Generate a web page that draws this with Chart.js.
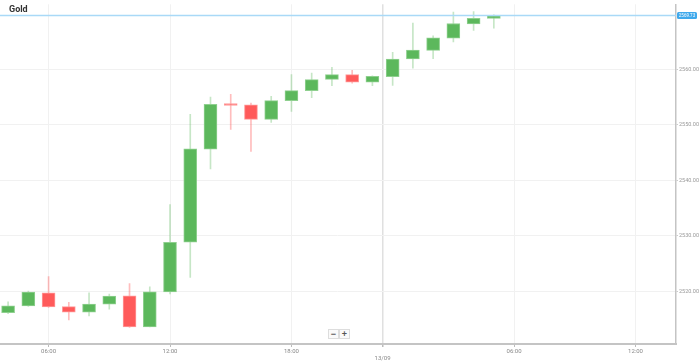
<!DOCTYPE html>
<html>
<head>
<script src="https://cdn.jsdelivr.net/npm/chart.js"></script>
<style>
  body { margin: 0; background: #fff; }
  #wrap { position: relative; width: 699px; height: 362px; }
  #title { position: absolute; left: 9px; top: 4px; font: bold 9px Roboto, sans-serif; color: #333; }
  #zoom { position: absolute; left: 328px; top: 329px; display: flex; }
  #zoom div { width: 9px; height: 8px; border: 1px solid #ddd; background: #fafafa; font: bold 9px Arial, sans-serif; color: #555; text-align: center; line-height: 8px; }
</style>
</head>
<body>
<div id="wrap">
  <canvas id="chartId" width="699" height="362"></canvas>
  <div id="title">Gold</div>
  <div id="zoom"><div>&minus;</div><div>+</div></div>
</div>
<script>
// hourly candles, 12/09 04:00 -> 13/09 05:00 (23:00 missing)
const slots = [0,1,2,3,4,5,6,7,8,9,10,11,12,13,14,15,16,17,18,19,20,21,22,23,24];
const opens  = [2516.13,2517.34,2519.69,2517.22,2516.20,2517.65,2519.15,2513.54,2519.87,2528.86,2545.61,2553.78,2553.63,2550.98,2554.36,2556.17,2558.20,2559.06,2557.72,2558.70,2561.88,2563.45,2565.62,2568.21,2569.19];
const highs  = [2518.06,2520.00,2522.64,2518.00,2519.69,2519.46,2521.37,2520.78,2535.60,2551.88,2555.00,2555.50,2553.92,2555.14,2559.06,2559.35,2560.40,2559.84,2558.84,2563.09,2568.34,2566.04,2570.33,2570.45,2569.84];
const lows   = [2515.95,2517.25,2517.07,2514.81,2515.53,2516.75,2513.45,2513.54,2519.50,2522.46,2542.06,2549.17,2545.19,2550.43,2552.42,2554.90,2557.07,2557.54,2557.07,2557.12,2560.25,2561.95,2564.96,2567.02,2567.43];
const closes = [2517.34,2519.82,2517.16,2516.20,2517.65,2519.10,2513.54,2519.87,2528.79,2545.68,2553.69,2553.50,2550.98,2554.36,2556.17,2558.16,2559.06,2557.72,2558.75,2561.88,2563.51,2565.68,2568.28,2569.24,2569.73];
const tickPos = [2, 8, 14, 18.5, 25, 31];
const tickLabels = ['06:00', '12:00', '18:00', ['', '13/09'], '06:00', '12:00'];
const yTicks = [2520, 2530, 2540, 2550, 2560];
const lastPrice = 2569.73;

const up = '#5cb85c', down = '#ff5a5a';
const isUp = slots.map(i => closes[i] >= opens[i]);

const priceLine = {
  id: 'priceLine',
  afterDraw(chart) {
    const { ctx, chartArea, scales } = chart;
    const y = Math.round(scales.y.getPixelForValue(lastPrice)) + 0.5;
    ctx.save();
    ctx.strokeStyle = '#a9d9f7';
    ctx.lineWidth = 1.5;
    ctx.beginPath();
    ctx.moveTo(0, y);
    ctx.lineTo(chartArea.right, y);
    ctx.stroke();
    ctx.fillStyle = '#3fa9ec';
    ctx.beginPath();
    ctx.roundRect(chartArea.right + 1, y - 3.5, 20, 7, 1.5);
    ctx.fill();
    ctx.fillStyle = '#fff';
    ctx.font = '4.5px Roboto, sans-serif';
    ctx.textAlign = 'center';
    ctx.textBaseline = 'middle';
    ctx.fillText(lastPrice.toFixed(2), chartArea.right + 11, y + 0.3);
    ctx.restore();
  }
};

new Chart(document.getElementById('chartId'), {
  type: 'bar',
  data: {
    datasets: [{
      label: 'wick',
      data: slots.map(i => ({ x: i, y: [lows[i], highs[i]] })),
      backgroundColor: slots.map(i => isUp[i] ? 'rgba(92,184,92,0.35)' : 'rgba(255,90,90,0.4)'),
      barThickness: 1,
      grouped: false,
      order: 2
    }, {
      label: 'body',
      data: slots.map(i => ({ x: i, y: [opens[i], closes[i]] })),
      backgroundColor: slots.map(i => isUp[i] ? up : down),
      borderColor: slots.map(i => isUp[i] ? '#8fd08f' : '#ff9a9a'),
      borderWidth: 1,
      borderSkipped: false,
      barThickness: 13,
      minBarLength: 2,
      grouped: false,
      order: 1
    }]
  },
  options: {
    responsive: false,
    animation: false,
    layout: { padding: 0 },
    plugins: { legend: { display: false }, tooltip: { enabled: false } },
    scales: {
      x: {
        type: 'linear',
        offset: false,
        min: -0.4,
        max: 33,
        afterBuildTicks: s => { s.ticks = tickPos.map(v => ({ value: v })); },
        afterFit: s => { s.height = 18; },
        ticks: {
          autoSkip: false,
          maxRotation: 0,
          padding: 1,
          color: '#888',
          font: { size: 6, family: 'Roboto, sans-serif' },
          callback: (v, i) => tickLabels[i]
        },
        grid: {
          offset: false,
          color: c => c.tick && c.tick.value === 18.5 ? '#e0e0e0' : '#f1f1f1',
          lineWidth: c => c.tick && c.tick.value === 18.5 ? 1.5 : 1,
          tickLength: 3,
          tickColor: '#bbb'
        },
        border: { color: '#c4c4c4', width: 2 }
      },
      y: {
        position: 'right',
        min: 2510.47,
        max: 2571.75,
        afterBuildTicks: s => { s.ticks = yTicks.map(v => ({ value: v })); },
        afterFit: s => { s.width = 23; },
        ticks: {
          padding: 1,
          color: '#999',
          font: { size: 5.5, family: 'Roboto, sans-serif' },
          callback: v => v.toFixed(2)
        },
        grid: { color: '#f1f1f1', tickLength: 2, tickColor: '#ccc' },
        border: { color: '#c4c4c4', width: 1.5 }
      }
    }
  },
  plugins: [priceLine]
});
</script>
</body>
</html>
